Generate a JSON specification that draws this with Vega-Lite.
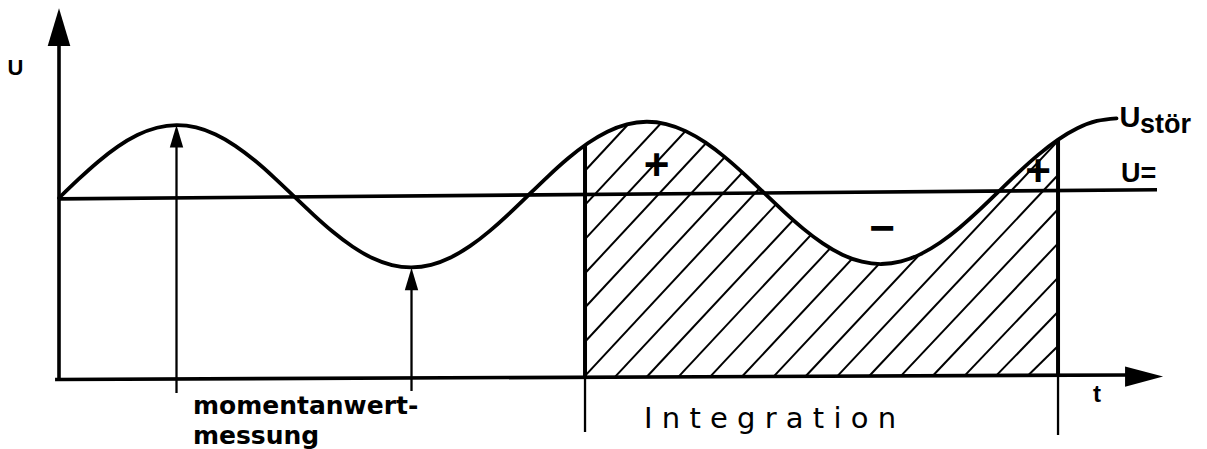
{
  "$schema": "https://vega.github.io/schema/vega-lite/v6.json",
  "width": 1207,
  "height": 449,
  "autosize": {"type": "none"},
  "padding": 0,
  "background": "white",
  "config": {"view": {"stroke": null}},
  "datasets": {
    "curve": [
      {"t": 0, "u": 1.0}, {"t": 15, "u": 1.1043}, {"t": 30, "u": 1.2016}, {"t": 45, "u": 1.2852},
      {"t": 60, "u": 1.3496}, {"t": 75, "u": 1.3904}, {"t": 90, "u": 1.4047}, {"t": 105, "u": 1.3919},
      {"t": 120, "u": 1.3527}, {"t": 135, "u": 1.2899}, {"t": 150, "u": 1.2079}, {"t": 165, "u": 1.1122},
      {"t": 180, "u": 1.0095}, {"t": 195, "u": 0.9068}, {"t": 210, "u": 0.8111}, {"t": 225, "u": 0.7291},
      {"t": 240, "u": 0.6662}, {"t": 255, "u": 0.627}, {"t": 270, "u": 0.6142}, {"t": 285, "u": 0.6286},
      {"t": 300, "u": 0.6694}, {"t": 315, "u": 0.7338}, {"t": 330, "u": 0.8174}, {"t": 345, "u": 0.9147},
      {"t": 360, "u": 1.019}, {"t": 375, "u": 1.1233}, {"t": 390, "u": 1.2206}, {"t": 405, "u": 1.3041},
      {"t": 420, "u": 1.3685}, {"t": 435, "u": 1.4093}, {"t": 450, "u": 1.4237}, {"t": 465, "u": 1.4109},
      {"t": 480, "u": 1.3717}, {"t": 495, "u": 1.3089}, {"t": 510, "u": 1.2269}, {"t": 525, "u": 1.1312},
      {"t": 540, "u": 1.0285}, {"t": 555, "u": 0.9257}, {"t": 570, "u": 0.83}, {"t": 585, "u": 0.748},
      {"t": 600, "u": 0.6852}, {"t": 615, "u": 0.646}, {"t": 630, "u": 0.6332}, {"t": 645, "u": 0.6476},
      {"t": 660, "u": 0.6884}, {"t": 675, "u": 0.7528}, {"t": 690, "u": 0.8364}, {"t": 705, "u": 0.9337},
      {"t": 720, "u": 1.0379}, {"t": 735, "u": 1.1422}, {"t": 750, "u": 1.2395}, {"t": 765, "u": 1.3231},
      {"t": 780, "u": 1.3875}, {"t": 795, "u": 1.4283}, {"t": 810, "u": 1.4427}
    ],
    "hatch": [
      {"t": 402.9, "u": 1.1517, "t2": 444.7, "u2": 1.4778},
      {"t": 402.9, "u": 0.9617, "t2": 469.1, "u2": 1.4778},
      {"t": 402.9, "u": 0.7717, "t2": 493.4, "u2": 1.4778},
      {"t": 402.9, "u": 0.5817, "t2": 517.8, "u2": 1.4778},
      {"t": 402.9, "u": 0.3917, "t2": 542.1, "u2": 1.4778},
      {"t": 402.9, "u": 0.2017, "t2": 566.5, "u2": 1.4778},
      {"t": 402.9, "u": 0.0117, "t2": 590.9, "u2": 1.4778},
      {"t": 425.7, "u": 0.005, "t2": 615.2, "u2": 1.4778},
      {"t": 450.1, "u": 0.0058, "t2": 639.6, "u2": 1.4778},
      {"t": 474.4, "u": 0.0066, "t2": 663.9, "u2": 1.4778},
      {"t": 498.8, "u": 0.0073, "t2": 688.3, "u2": 1.4778},
      {"t": 523.2, "u": 0.0081, "t2": 712.6, "u2": 1.4778},
      {"t": 547.5, "u": 0.0089, "t2": 737.0, "u2": 1.4778},
      {"t": 571.9, "u": 0.0096, "t2": 761.4, "u2": 1.4778},
      {"t": 596.2, "u": 0.0104, "t2": 765.2, "u2": 1.3172},
      {"t": 620.6, "u": 0.0112, "t2": 765.2, "u2": 1.1278},
      {"t": 644.9, "u": 0.0119, "t2": 765.2, "u2": 0.9378},
      {"t": 669.3, "u": 0.0127, "t2": 765.2, "u2": 0.7478},
      {"t": 693.7, "u": 0.0135, "t2": 765.2, "u2": 0.5578},
      {"t": 718.0, "u": 0.0143, "t2": 765.2, "u2": 0.3678},
      {"t": 742.4, "u": 0.015, "t2": 765.2, "u2": 0.1778}
    ],
    "lines": [
      {"kind": "axis", "t": 0, "u": -0.011, "t2": 0, "u2": 1.85},
      {"kind": "axis", "t": -3, "u": -0.0083, "t2": 820, "u2": 0.017},
      {"kind": "level", "t": 0, "u": 0.995, "t2": 841, "u2": 1.046},
      {"kind": "bound", "t": 402.9, "u": 0, "t2": 402.9, "u2": 1.2935},
      {"kind": "bound", "t": 765.2, "u": 0.013, "t2": 765.2, "u2": 1.3231},
      {"kind": "tick", "t": 402.9, "u": -0.3, "t2": 402.9, "u2": 0},
      {"kind": "tick", "t": 765.2, "u": -0.3167, "t2": 765.2, "u2": 0.013},
      {"kind": "arrow", "t": 90, "u": -0.083, "t2": 90, "u2": 1.35},
      {"kind": "arrow", "t": 270, "u": -0.072, "t2": 270, "u2": 0.56}
    ],
    "heads": [
      {"kind": "yaxis", "t": 0, "u": 1.949},
      {"kind": "xaxis", "t": 831.1, "u": 0.008},
      {"kind": "arrow", "t": 90, "u": 1.3433},
      {"kind": "arrow", "t": 270, "u": 0.55}
    ],
    "labels": [
      {"role": "axis", "label": "U", "t": -33.3, "u": 1.6833},
      {"role": "axis2", "label": "t", "t": 795.1, "u": -0.1333},
      {"role": "note", "label": "momentanwert-\nmessung", "t": 102.6, "u": -0.2},
      {"role": "span", "label": "I n t e g r a t i o n", "t": 544.6, "u": -0.2794},
      {"role": "sig", "label": "U", "t": 812.3, "u": 1.3961},
      {"role": "sub", "label": "stör", "t": 828.0, "u": 1.3594},
      {"role": "dc", "label": "U=", "t": 813.5, "u": 1.0906},
      {"role": "sign", "label": "+", "t": 457.8, "u": 1.174},
      {"role": "sign", "label": "+", "t": 749.9, "u": 1.139},
      {"role": "sign", "label": "−", "t": 630.4, "u": 0.822}
    ]
  },
  "encoding": {
    "x": {"field": "t", "type": "quantitative", "scale": {"domain": [-45.19, 879.3], "nice": false, "zero": false}, "axis": null},
    "y": {"field": "u", "type": "quantitative", "scale": {"domain": [-0.39444, 2.1], "nice": false, "zero": false}, "axis": null}
  },
  "layer": [
    {
      "data": {"name": "hatch"},
      "mark": {"type": "rule", "color": "black", "strokeWidth": 2},
      "encoding": {"x2": {"field": "t2"}, "y2": {"field": "u2"}}
    },
    {
      "data": {"name": "curve"},
      "transform": [{"filter": "datum.t >= 375 && datum.t <= 810"}],
      "mark": {"type": "area", "interpolate": "natural", "color": "white", "opacity": 1},
      "encoding": {"y2": {"datum": 1.52}}
    },
    {
      "data": {"name": "lines"},
      "transform": [{"filter": "datum.kind === 'axis' || datum.kind === 'level'"}],
      "mark": {"type": "rule", "color": "black", "strokeWidth": 3.6},
      "encoding": {"x2": {"field": "t2"}, "y2": {"field": "u2"}}
    },
    {
      "data": {"name": "lines"},
      "transform": [{"filter": "datum.kind === 'bound'"}],
      "mark": {"type": "rule", "color": "black", "strokeWidth": 4},
      "encoding": {"x2": {"field": "t2"}, "y2": {"field": "u2"}}
    },
    {
      "data": {"name": "lines"},
      "transform": [{"filter": "datum.kind === 'tick' || datum.kind === 'arrow'"}],
      "mark": {"type": "rule", "color": "black", "strokeWidth": 2.3},
      "encoding": {"x2": {"field": "t2"}, "y2": {"field": "u2"}}
    },
    {
      "data": {"name": "curve"},
      "mark": {"type": "line", "interpolate": "natural", "color": "black", "strokeWidth": 3.8, "strokeCap": "round"}
    },
    {
      "data": {"name": "heads"},
      "transform": [{"filter": "datum.kind === 'yaxis'"}],
      "mark": {"type": "point", "filled": true, "opacity": 1, "color": "black", "shape": "M0,-1L0.6,1L-0.6,1Z", "size": 1421}
    },
    {
      "data": {"name": "heads"},
      "transform": [{"filter": "datum.kind === 'xaxis'"}],
      "mark": {"type": "point", "filled": true, "opacity": 1, "color": "black", "shape": "M1,0L-1,0.53L-1,-0.53Z", "size": 1444}
    },
    {
      "data": {"name": "heads"},
      "transform": [{"filter": "datum.kind === 'arrow'"}],
      "mark": {"type": "point", "filled": true, "opacity": 1, "color": "black", "shape": "M0,-1L0.6,1L-0.6,1Z", "size": 500}
    },
    {
      "data": {"name": "labels"},
      "transform": [{"filter": "datum.role === 'axis'"}],
      "mark": {"type": "text", "font": "Liberation Sans", "fontSize": 22, "fontWeight": "bold", "align": "center", "baseline": "alphabetic", "color": "black"},
      "encoding": {"text": {"field": "label"}}
    },
    {
      "data": {"name": "labels"},
      "transform": [{"filter": "datum.role === 'axis2'"}],
      "mark": {"type": "text", "font": "Liberation Sans", "fontSize": 24, "fontWeight": "bold", "align": "center", "baseline": "alphabetic", "color": "black"},
      "encoding": {"text": {"field": "label"}}
    },
    {
      "data": {"name": "labels"},
      "transform": [{"filter": "datum.role === 'note'"}],
      "mark": {"type": "text", "font": "DejaVu Sans", "fontSize": 25, "fontWeight": "bold", "align": "left", "baseline": "alphabetic", "lineBreak": "\n", "lineHeight": 30, "color": "black"},
      "encoding": {"text": {"field": "label"}}
    },
    {
      "data": {"name": "labels"},
      "transform": [{"filter": "datum.role === 'span'"}],
      "mark": {"type": "text", "font": "DejaVu Sans", "fontSize": 29, "align": "center", "baseline": "alphabetic", "color": "black"},
      "encoding": {"text": {"field": "label"}}
    },
    {
      "data": {"name": "labels"},
      "transform": [{"filter": "datum.role === 'sig'"}],
      "mark": {"type": "text", "font": "Liberation Sans", "fontSize": 29, "fontWeight": "bold", "align": "left", "baseline": "alphabetic", "color": "black"},
      "encoding": {"text": {"field": "label"}}
    },
    {
      "data": {"name": "labels"},
      "transform": [{"filter": "datum.role === 'sub'"}],
      "mark": {"type": "text", "font": "Liberation Sans", "fontSize": 27, "fontWeight": "bold", "align": "left", "baseline": "alphabetic", "color": "black"},
      "encoding": {"text": {"field": "label"}}
    },
    {
      "data": {"name": "labels"},
      "transform": [{"filter": "datum.role === 'dc'"}],
      "mark": {"type": "text", "font": "Liberation Sans", "fontSize": 27, "fontWeight": "bold", "align": "left", "baseline": "alphabetic", "color": "black"},
      "encoding": {"text": {"field": "label"}}
    },
    {
      "data": {"name": "labels"},
      "transform": [{"filter": "datum.role === 'sign'"}],
      "mark": {"type": "text", "font": "Liberation Sans", "fontSize": 44, "fontWeight": "bold", "align": "center", "baseline": "middle", "color": "black"},
      "encoding": {"text": {"field": "label"}}
    }
  ]
}
